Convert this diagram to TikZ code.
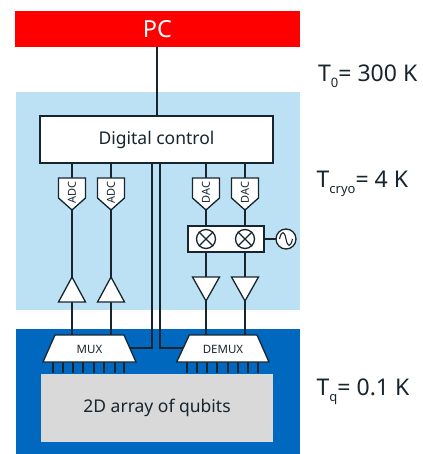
\documentclass[tikz,border=0pt]{standalone}
\usepackage{fontspec}
\setmainfont{Noto Sans}
\definecolor{pcred}{HTML}{FF0000}
\definecolor{cryo}{HTML}{BDE1F4}
\definecolor{base}{HTML}{0068BF}
\definecolor{chip}{HTML}{D9D9D9}
\definecolor{ink}{HTML}{17252E}
\newcommand{\tsub}[1]{\raisebox{-6pt}{\fontsize{13}{13}\selectfont #1}}
\tikzset{
  x=1pt,y=-1pt,
  box/.style={draw=ink,line width=1.5pt,fill=white,inner sep=0pt,outer sep=0pt},
  part/.style={draw=ink,line width=1.3pt,fill=white,line join=miter},
  wire/.style={draw=ink,line width=1.6pt},
  pin/.style={draw=ink,line width=1.2pt},
  rlabel/.style={font=\fontsize{23}{26}\selectfont,anchor=base west,inner sep=0pt,text=ink},
  conv/.style={font=\fontsize{11}{12}\selectfont,rotate=90,inner sep=0pt,text=ink},
  muxlabel/.style={font=\fontsize{11.5}{13}\selectfont,inner sep=0pt,text=ink},
}
\newcommand{\pent}[2]{%
  \path[part] (#1-13.5,178) -- (#1+13.5,178) -- (#1+13.5,198) -- (#1,210) -- (#1-13.5,198) -- cycle;
  \coordinate (#2top) at (#1,178);
  \coordinate (#2tip) at (#1,210);
  \node[conv] (#2) at (#1,192.5) {\pentlabel};
}
\begin{document}
\begin{tikzpicture}
\useasboundingbox (0,0) rectangle (422,454);
\fill[white] (0,0) rectangle (422,454);
% zones
\node[fill=cryo,minimum width=284pt,minimum height=218pt,inner sep=0pt,outer sep=0pt] (cryozone) at (158,201) {};
\node[fill=base,minimum width=284pt,minimum height=125pt,inner sep=0pt,outer sep=0pt] (basezone) at (158,391.5) {};
\node[fill=pcred,minimum width=285pt,minimum height=36pt,inner sep=0pt,outer sep=0pt,text=white,font=\fontsize{23.5}{26}\selectfont] (pc) at (157.5,29) {PC};
\node[fill=chip,minimum width=232pt,minimum height=68pt,inner sep=0pt,outer sep=0pt,font=\fontsize{17.5}{20}\selectfont,text=ink] (chip) at (157,408) {2D array of qubits};
\node[box,minimum width=233pt,minimum height=47pt,font=\fontsize{17.5}{20}\selectfont,text=ink] (dc) at (156.5,139.5) {Digital control};
% anchor coordinates
\coordinate (pcb) at (157,47);
\coordinate (pcdc) at (157,116);
\draw[wire] (pcb) -- (pcdc);
% wires
\coordinate (a1u) at (72,163); \coordinate (a2u) at (111,163);
\coordinate (d1u) at (206,163); \coordinate (d2u) at (245,163);
\coordinate (a1d) at (72,335); \coordinate (a2d) at (111,335);
\coordinate (d1d) at (206,335); \coordinate (d2d) at (245,335);
\coordinate (c1t) at (152,163); \coordinate (c2t) at (160,163);
\coordinate (c1b) at (130,348); \coordinate (c2b) at (183,348);
\draw[wire] (a1u) -- (a1d);
\draw[wire] (a2u) -- (a2d);
\draw[wire] (d1u) -- (d1d);
\draw[wire] (d2u) -- (d2d);
\draw[wire] (c1t) |- (c1b);
\draw[wire] (c2t) |- (c2b);
\draw[wire] (264,239) -- (276,239);
% converters
\def\pentlabel{ADC}\pent{72}{adca}\pent{111}{adcb}
\def\pentlabel{DAC}\pent{206}{daca}\pent{245}{dacb}
% mixer
\node[box,minimum width=76pt,minimum height=26pt] (mixbox) at (226,239) {};
\foreach \n/\cx in {mixa/206,mixb/245}{
  \node[part,circle,minimum size=19pt,inner sep=0pt] (\n) at (\cx,239) {};
  \draw[part] (\n.north west) -- (\n.south east) (\n.north east) -- (\n.south west);
}
\node[part,circle,minimum size=20pt,inner sep=0pt] (osc) at (286,239) {};
\draw[ink,line width=1.1pt] (279.5,239) .. controls (281.5,230) and (284.5,231) .. (286,239) .. controls (287.5,247) and (290.5,248) .. (292.5,239);
% amplifiers
\foreach \cx in {72,111}{
  \path[part] (\cx-13.5,302) -- (\cx+13.5,302) -- (\cx,277) -- cycle;
}
\foreach \cx in {206,245}{
  \path[part] (\cx-13.5,277) -- (\cx+13.5,277) -- (\cx,301) -- cycle;
}
% pins
\foreach \px in {53,63,73,83,94,104,115,124,187,197,207,217,228,238,248,258}{
  \draw[pin] (\px,362) -- (\px,373);
}
% mux
\path[part] (55,335) -- (124,335) -- (136,362) -- (43,362) -- cycle;
\node[muxlabel] (mux) at (89.5,349) {MUX};
\path[part] (189.3,335) -- (257,335) -- (269,362) -- (176.7,362) -- cycle;
\node[muxlabel] (demux) at (223,349) {DEMUX};
% temperatures
\node[rlabel] (t0) at (318,82) {T\tsub{0}= 300 K};
\node[rlabel] (t1) at (316.5,187) {T\tsub{cryo}= 4 K};
\node[rlabel] (t2) at (316.5,395) {T\tsub{q}= 0.1 K};
\end{tikzpicture}
\end{document}
